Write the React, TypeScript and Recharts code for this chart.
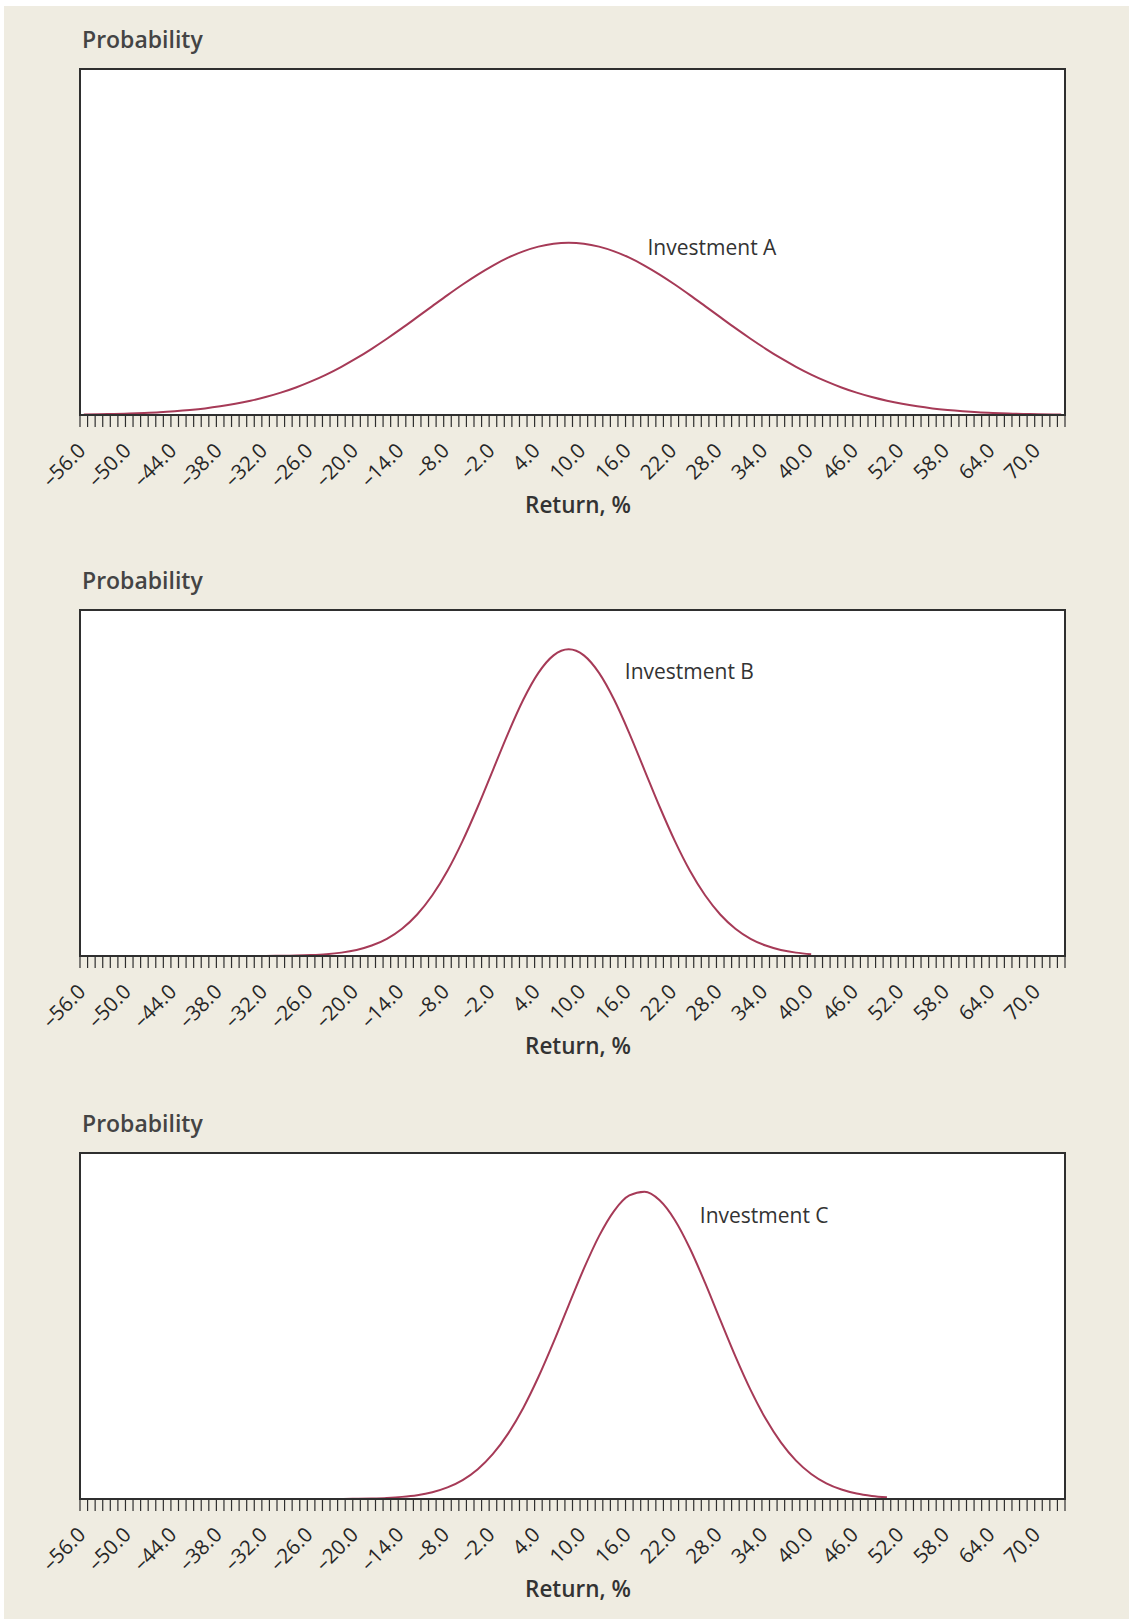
import React from 'react';
import { LineChart, Line, XAxis, YAxis, ReferenceArea, ReferenceDot, CartesianGrid } from 'recharts';

// Return, % (x positions of the sampled points)
const returns = [
  -56, -54, -52, -50, -48, -46, -44, -42, -40, -38, -36, -34, -32, -30, -28, -26, -24, -22, -20, -18,
  -16, -14, -12, -10, -8, -6, -4, -2, 0, 2, 4, 6, 8, 10, 12, 14, 16, 18, 20, 22,
  24, 26, 28, 30, 32, 34, 36, 38, 40, 42, 44, 46, 48, 50, 52, 54, 56, 58, 60, 62,
  64, 66, 68, 70, 72, 73,
];

// Probability (%)
const probA = [
  0.007, 0.010, 0.013, 0.019, 0.026, 0.035, 0.048, 0.064, 0.084, 0.110, 0.142, 0.181, 0.228, 0.284, 0.350, 0.427, 0.514, 0.613, 0.722, 0.842,
  0.970, 1.104, 1.244, 1.385, 1.525, 1.660, 1.786, 1.901, 2.001, 2.081, 2.141, 2.178, 2.190, 2.178, 2.141, 2.081, 2.001, 1.901, 1.786, 1.660,
  1.525, 1.385, 1.244, 1.104, 0.970, 0.842, 0.722, 0.613, 0.514, 0.427, 0.350, 0.284, 0.228, 0.181, 0.142, 0.110, 0.084, 0.064, 0.048, 0.035,
  0.026, 0.019, 0.013, 0.010, 0.007, 0.006,
];

const probB = [
  0, 0, 0, 0, 0, 0, 0, 0, 0, 0, 0, 0, 0, 0.003, 0.006, 0.012, 0.023, 0.043, 0.077, 0.133,
  0.219, 0.347, 0.528, 0.772, 1.084, 1.464, 1.898, 2.365, 2.832, 3.258, 3.600, 3.823, 3.900, 3.823, 3.600, 3.258, 2.832, 2.365, 1.898, 1.464,
  1.084, 0.772, 0.528, 0.347, 0.219, 0.133, 0.077, 0.043, 0.023, null, null, null, null, null, null, null, null, null, null, null,
  null, null, null, null, null, null,
];

const probC = [
  0, 0, 0, 0, 0, 0, 0, 0, 0, 0, 0, 0, 0, 0, 0, 0, 0, 0, 0.003, 0.007,
  0.014, 0.027, 0.049, 0.087, 0.148, 0.241, 0.379, 0.573, 0.831, 1.158, 1.551, 1.995, 2.466, 2.929, 3.343, 3.665, 3.860, 3.907, 3.799, 3.549,
  3.186, 2.748, 2.277, 1.813, 1.387, 1.019, 0.720, 0.488, 0.318, 0.199, 0.120, 0.069, 0.039, 0.021, null, null, null, null, null, null,
  null, null, null, null, null, null,
];

// Labelled ticks on the Return axis
const labelTicks = [-56, -50, -44, -38, -32, -26, -20, -14, -8, -2, 4, 10, 16, 22, 28, 34, 40, 46, 52, 58, 64, 70];

// Category boundaries (minor tick marks), one per unit
const minorTicks = Array.from({ length: 131 }, (_, i) => -56.5 + i);

const seriesNames = ['Investment A', 'Investment B', 'Investment C'];
const seriesKeys = ['a', 'b', 'c'];
// Annotation anchor (return, probability) for each series name
const nameAnchorX = [18.4, 15.4, 25.3];
const nameAnchorY = [2.13, 3.62, 3.61];

const X_DOMAIN: [number, number] = [-56.5, 73.5];
const Y_MAX = 4.4;

const rows = returns.map((r, i) => ({ r, a: probA[i], b: probB[i], c: probC[i] }));

const FONT = '"Open Sans", Lato, sans-serif';
const LINE_COLOR = '#A63A57';
const AXIS_COLOR = '#2f2f2f';

const fmt = (v: number) => (v < 0 ? '\u2013' + Math.abs(v).toFixed(1) : v.toFixed(1));

function LabelTick(props: any) {
  const { x, y, payload } = props;
  return (
    <text
      x={0}
      y={0}
      transform={`translate(${x + 3},${y + 36}) rotate(-45)`}
      textAnchor="end"
      fontSize={20.5}
      fill="#262626"
      fontFamily={FONT}
    >
      {fmt(payload.value)}
    </text>
  );
}

const TOP_M = 50;
const PLOT_H = 346;
const BOTTOM_AXIS_H = 110;
const CHART_H = TOP_M + PLOT_H + 1 + BOTTOM_AXIS_H;

function Panel({ idx, plotTop }: { idx: number; plotTop: number }) {
  const key = seriesKeys[idx];
  return (
    <div style={{ position: 'absolute', left: 0, top: plotTop - TOP_M, width: 1129, height: CHART_H }}>
      <LineChart width={1129} height={CHART_H} data={rows} margin={{ top: TOP_M, right: 64, bottom: 0, left: 80 }}>
        <CartesianGrid xAxisId="a" horizontal={false} vertical={false} fill="#ffffff" stroke="none" />
        <XAxis
          xAxisId="b"
          dataKey="r"
          type="number"
          domain={X_DOMAIN}
          ticks={labelTicks}
          interval={0}
          height={BOTTOM_AXIS_H}
          tickSize={0}
          tickMargin={0}
          axisLine={false}
          tickLine={false}
          tick={LabelTick}
          allowDataOverflow
        />
        <XAxis
          xAxisId="a"
          dataKey="r"
          type="number"
          domain={X_DOMAIN}
          ticks={minorTicks}
          interval={0}
          height={1}
          tickSize={12}
          tickMargin={0}
          axisLine={{ stroke: AXIS_COLOR, strokeWidth: 2 }}
          tickLine={{ stroke: AXIS_COLOR, strokeWidth: 1.2 }}
          tick={() => <g />}
          allowDataOverflow
        />
        <YAxis hide width={0} type="number" domain={[0, Y_MAX]} allowDataOverflow />
        <ReferenceArea
          xAxisId="a"
          x1={X_DOMAIN[0]}
          x2={X_DOMAIN[1]}
          y1={0}
          y2={Y_MAX}
          fill="#ffffff"
          fillOpacity={0}
          stroke={AXIS_COLOR}
          strokeWidth={2}
          ifOverflow="visible"
        />
        <Line
          xAxisId="a"
          type="monotone"
          dataKey={key}
          stroke={LINE_COLOR}
          strokeWidth={2}
          dot={false}
          activeDot={false}
          connectNulls={false}
          isAnimationActive={false}
        />
        <ReferenceDot
          xAxisId="a"
          x={nameAnchorX[idx]}
          y={nameAnchorY[idx]}
          r={0}
          fill="none"
          stroke="none"
          ifOverflow="visible"
          label={{
            value: seriesNames[idx],
            position: 'right',
            offset: 0,
            fontSize: 21,
            fill: '#333',
            fontFamily: FONT,
          }}
        />
      </LineChart>
      <svg width={1129} height={CHART_H} style={{ position: 'absolute', left: 0, top: 0, pointerEvents: 'none' }}>
        <text x={82} y={TOP_M - 21} fontSize={23} fontWeight={600} fill="#444" fontFamily={FONT}>
          Probability
        </text>
        <text
          x={578}
          y={TOP_M + PLOT_H + 98}
          textAnchor="middle"
          fontSize={22.5}
          fontWeight={600}
          fill="#333"
          fontFamily={FONT}
        >
          Return, %
        </text>
      </svg>
    </div>
  );
}

const plotTops = [69, 610, 1153];

export default function App() {
  return (
    <div style={{ position: 'fixed', left: 0, top: 0, width: 1129, height: 1619, background: '#ffffff', overflow: 'hidden' }}>
      <div style={{ position: 'absolute', left: 4, top: 6, width: 1125, height: 1613, background: '#EFECE1' }} />
      {plotTops.map((t, i) => (
        <Panel key={i} idx={i} plotTop={t} />
      ))}
    </div>
  );
}
